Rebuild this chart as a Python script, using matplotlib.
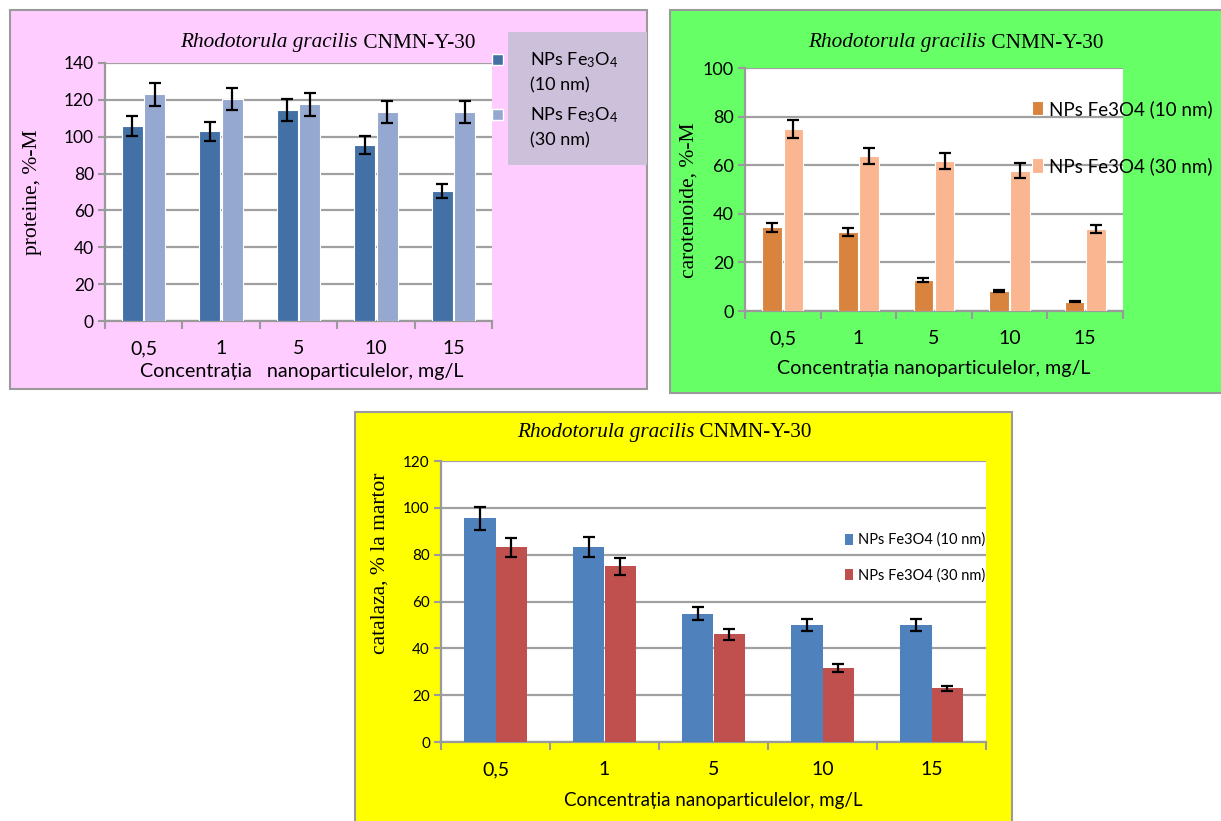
import matplotlib.pyplot as plt
import numpy as np
from matplotlib.patches import Rectangle
from matplotlib.text import Annotation

plt.rcParams['mathtext.fontset'] = 'custom'
plt.rcParams['mathtext.rm'] = 'Lato'
plt.rcParams['mathtext.it'] = 'Lato:italic'

W, H = 1221, 821
SANS = 'Lato'
SERIF = 'Liberation Serif'

categories = ['0,5', '1', '5', '10', '15']

# proteine, %-M
prot_10 = [106, 103, 114.5, 95.5, 70.5]
prot_10_err = [5.5, 5.2, 6, 5, 3.7]
prot_30 = [123, 120.7, 117.5, 113.5, 113.5]
prot_30_err = [6.3, 6, 6, 6, 5.8]

# carotenoide, %-M
car_10 = [34.5, 32.4, 12.8, 8.2, 3.8]
car_10_err = [1.9, 1.7, 0.8, 0.5, 0.3]
car_30 = [74.9, 63.7, 61.7, 57.8, 33.7]
car_30_err = [3.9, 3.4, 3.3, 3.0, 1.8]

# catalaza, % la martor
cat_10 = [95.5, 83.4, 54.7, 50, 50]
cat_10_err = [4.8, 4.2, 2.8, 2.6, 2.6]
cat_30 = [83.2, 75, 46, 31.5, 23]
cat_30_err = [4.1, 3.7, 2.3, 1.8, 1.1]


def fbox(x0, y0, x1, y1):
    return [x0 / W, 1 - y1 / H, (x1 - x0) / W, (y1 - y0) / H]


def panel(fig, x0, y0, x1, y1, color):
    fig.patches.append(Rectangle((x0 / W, 1 - y1 / H), (x1 - x0) / W, (y1 - y0) / H,
                                 transform=fig.transFigure, facecolor=color,
                                 edgecolor='#9a9a9a', lw=1.5, zorder=-2))


def bar_panel(ax, v1, e1, v2, e2, c1, c2, width, offs, ymax, ystep, ytick_size, xtick_size, edge):
    x = np.arange(len(categories))
    ax.bar(x - offs, v1, width, color=c1, edgecolor=edge, lw=0.8, zorder=3)
    ax.bar(x + offs, v2, width, color=c2, edgecolor=edge, lw=0.8, zorder=3)
    ekw = dict(fmt='none', ecolor='black', elinewidth=1.6, capsize=4.5, capthick=1.6, zorder=4)
    ax.errorbar(x - offs, v1, yerr=e1, **ekw)
    ax.errorbar(x + offs, v2, yerr=e2, **ekw)
    ax.set_xlim(-0.5, len(categories) - 0.5)
    ax.set_ylim(0, ymax)
    ax.set_yticks(np.arange(0, ymax + 1, ystep))
    ax.set_xticks(x)
    ax.set_xticklabels(categories, family=SANS, fontsize=xtick_size)
    ax.set_xticks(np.arange(-0.5, len(categories)), minor=True)
    for lbl in ax.get_yticklabels():
        lbl.set_family(SANS)
        lbl.set_fontsize(ytick_size)
    ax.tick_params(axis='x', which='major', length=0, pad=14)
    ax.tick_params(axis='x', which='minor', length=6, width=1.5, color='#9a9a9a')
    ax.tick_params(axis='y', length=5, width=1.5, color='#9a9a9a', pad=3)
    ax.yaxis.grid(True, color='#a0a0a0', lw=1.6, zorder=1)
    ax.set_axisbelow(True)
    for s in ['top', 'right']:
        ax.spines[s].set_visible(False)
    for s in ['left', 'bottom']:
        ax.spines[s].set_color('#9a9a9a')
        ax.spines[s].set_linewidth(1.6)
    ax.set_facecolor('white')


fig = plt.figure(figsize=(W / 100, H / 100), dpi=100)
fig.patch.set_facecolor('white')

panel(fig, 10, 10, 647, 389, '#ffccff')
panel(fig, 670, 10, 1225, 393, '#66ff66')
panel(fig, 355, 412, 1012, 825, '#ffff00')

# panel 1: proteine
ax1 = fig.add_axes(fbox(105, 63, 492, 321))
bar_panel(ax1, prot_10, prot_10_err, prot_30, prot_30_err, '#4471a5', '#95a8d0',
          0.27, 0.145, 140, 20, 12.5, 14, 'white')
ax1.set_ylabel('proteine, %-M', family=SERIF, fontsize=15.5)
ax1.yaxis.set_label_coords(-0.163, 0.5)
fig.text(302 / W, 1 - 372 / H, 'Concentrația   nanoparticulelor, mg/L', family=SANS,
         fontsize=14.2, ha='center', va='center')
fig.patches.append(Rectangle((508 / W, 1 - 165 / H), (647 - 508) / W, (165 - 32) / H,
                             transform=fig.transFigure, facecolor='#ccc0da',
                             edgecolor='none', zorder=-1))
for yy, col, lab in [(60, '#4471a5', 'NPs Fe$_3$O$_4$\n(10 nm)'),
                     (115, '#95a8d0', 'NPs Fe$_3$O$_4$\n(30 nm)')]:
    fig.patches.append(Rectangle((492 / W, 1 - (yy + 5) / H), 11 / W, 11 / H,
                                 transform=fig.transFigure, facecolor=col,
                                 edgecolor='white', lw=1, zorder=2))
    fig.text(530 / W, 1 - (yy - 10) / H, lab, family=SANS, fontsize=13,
             ha='left', va='top', linespacing=1.55, zorder=3)

# panel 2: carotenoide
ax2 = fig.add_axes(fbox(745, 68, 1123, 311))
bar_panel(ax2, car_10, car_10_err, car_30, car_30_err, '#d8843e', '#f9b690',
          0.26, 0.14, 100, 20, 13, 14, 'white')
ax2.set_ylabel('carotenoide, %-M', family=SERIF, fontsize=15.5)
ax2.yaxis.set_label_coords(-0.122, 0.457)
ax2.set_xlabel('Concentrația nanoparticulelor, mg/L', family=SANS, fontsize=14.2, labelpad=9)
ax2.legend(['NPs Fe3O4 (10 nm)', 'NPs Fe3O4 (30 nm)'], loc='upper left',
           bbox_to_anchor=(0.74, 0.9), frameon=False, prop={'family': SANS, 'size': 13.5},
           handlelength=0.6, handleheight=0.8, handletextpad=0.3, labelspacing=2.1,
           borderaxespad=0)

# panel 3: catalaza
ax3 = fig.add_axes(fbox(441, 461, 986, 742))
bar_panel(ax3, cat_10, cat_10_err, cat_30, cat_30_err, '#4f81bd', '#c0504d',
          0.285, 0.1425, 120, 20, 11, 14, 'none')
ax3.set_ylabel('catalaza, % la martor', family=SERIF, fontsize=15.5)
ax3.yaxis.set_label_coords(-0.095, 0.637)
ax3.set_xlabel('Concentrația nanoparticulelor, mg/L', family=SANS, fontsize=13.5, labelpad=10)
ax3.legend(['NPs Fe3O4 (10 nm)', 'NPs Fe3O4 (30 nm)'], loc='upper left',
           bbox_to_anchor=(0.73, 0.765), frameon=False, prop={'family': SANS, 'size': 10.5},
           handlelength=0.6, handleheight=0.8, handletextpad=0.3, labelspacing=1.45,
           borderaxespad=0)

# titles: italic species name followed by upright strain code
for x, y in [(180, 43), (808, 43), (517, 432)]:
    t = fig.text(x / W, 1 - y / H, 'Rhodotorula gracilis', family=SERIF, style='italic',
                 fontsize=15.3, ha='left', va='center')
    fig.add_artist(Annotation(' CNMN-Y-30', xy=(1, 0), xycoords=t, ha='left', va='bottom',
                              family=SERIF, fontsize=15.3, annotation_clip=False))

fig.savefig('out.png', dpi=100)
